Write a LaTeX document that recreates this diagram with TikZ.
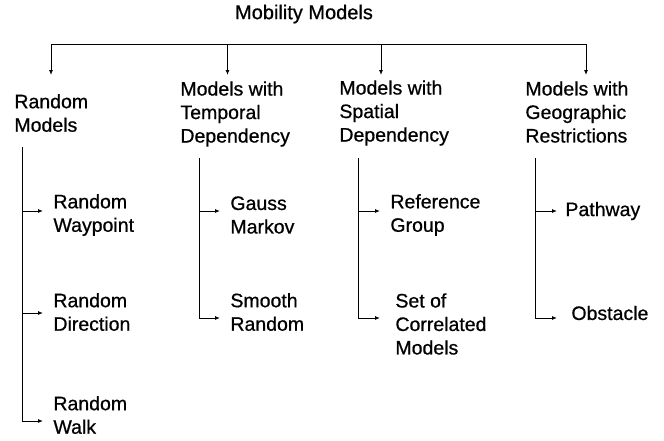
\documentclass[tikz,border=0pt]{standalone}
\usepackage{fontspec}
\setmainfont{Liberation Sans}[FakeBold=0.7]
\usetikzlibrary{arrows.meta}

\tikzset{
    lbl/.style={anchor=west, align=left, inner sep=0pt, font=\fontsize{19.5}{23.5}\selectfont},
    arr/.style={-{Latex[length=5pt,width=4pt]}},
    leaf/.style={arr, shorten >=#1},
    leaf/.default=10pt
}

\begin{document}
\begin{tikzpicture}[x=1pt,y=-1pt,line width=.9pt]
    \useasboundingbox (0,0) rectangle (664,440);
    \node[inner sep=0pt, font=\fontsize{20}{24}\selectfont] (title) at (304,14) {Mobility Models};

    % the four classes under the bar
    \node[lbl] (rnd) at (14,113) {Random\\Models};
    \node[lbl] (tmp) at (180,114) {Models with\\Temporal\\Dependency};
    \node[lbl] (spa) at (339,113) {Models with\\Spatial\\Dependency};
    \node[lbl] (geo) at (525,112) {Models with\\Geographic\\Restrictions};

    \foreach [count=\i] \x in {51,227.5,381,586} {
        \coordinate (b\i) at (\x,44);
        \coordinate (d\i) at (\x,75);
    }
    \draw (b1) -- (b4);
    \foreach \i in {1,...,4} \draw[arr] (b\i) -- (d\i);

    % leaves
    \node[lbl] (rwp) at (53,215) {Random\\Waypoint};
    \node[lbl] (rdir) at (53,312) {Random\\Direction};
    \node[lbl] (rwalk) at (53,415) {Random\\Walk};
    \node[lbl] (gm) at (230,215) {Gauss\\Markov};
    \node[lbl] (sr) at (230,312) {Smooth\\Random};
    \node[lbl] (rg) at (390,215) {Reference\\Group};
    \node[lbl] (scm) at (395,324) {Set of\\Correlated\\Models};
    \node[lbl] (pw) at (565,211) {Pathway};
    \node[lbl] (ob) at (571,313) {Obstacle};

    \coordinate (rtop) at (22,147);
    \coordinate (ttop) at (199,158);
    \coordinate (stop) at (358,158);
    \coordinate (gtop) at (535,158);

    \draw[leaf] (rtop) |- ([yshift=4pt]rwp.west);
    \draw[leaf] (rtop) |- ([yshift=-1pt]rdir.west);
    \draw[leaf] (rtop) |- ([yshift=-6pt]rwalk.west);
    \draw[leaf] (ttop) |- ([yshift=4pt]gm.west);
    \draw[leaf] (ttop) |- ([yshift=-6pt]sr.west);
    \draw[leaf] (stop) |- ([yshift=4pt]rg.west);
    \draw[leaf=15pt] (stop) |- ([yshift=6pt]scm.west);
    \draw[leaf=8pt] (gtop) |- (pw.west);
    \draw[leaf=14pt] (gtop) |- ([yshift=-5pt]ob.west);
\end{tikzpicture}
\end{document}
